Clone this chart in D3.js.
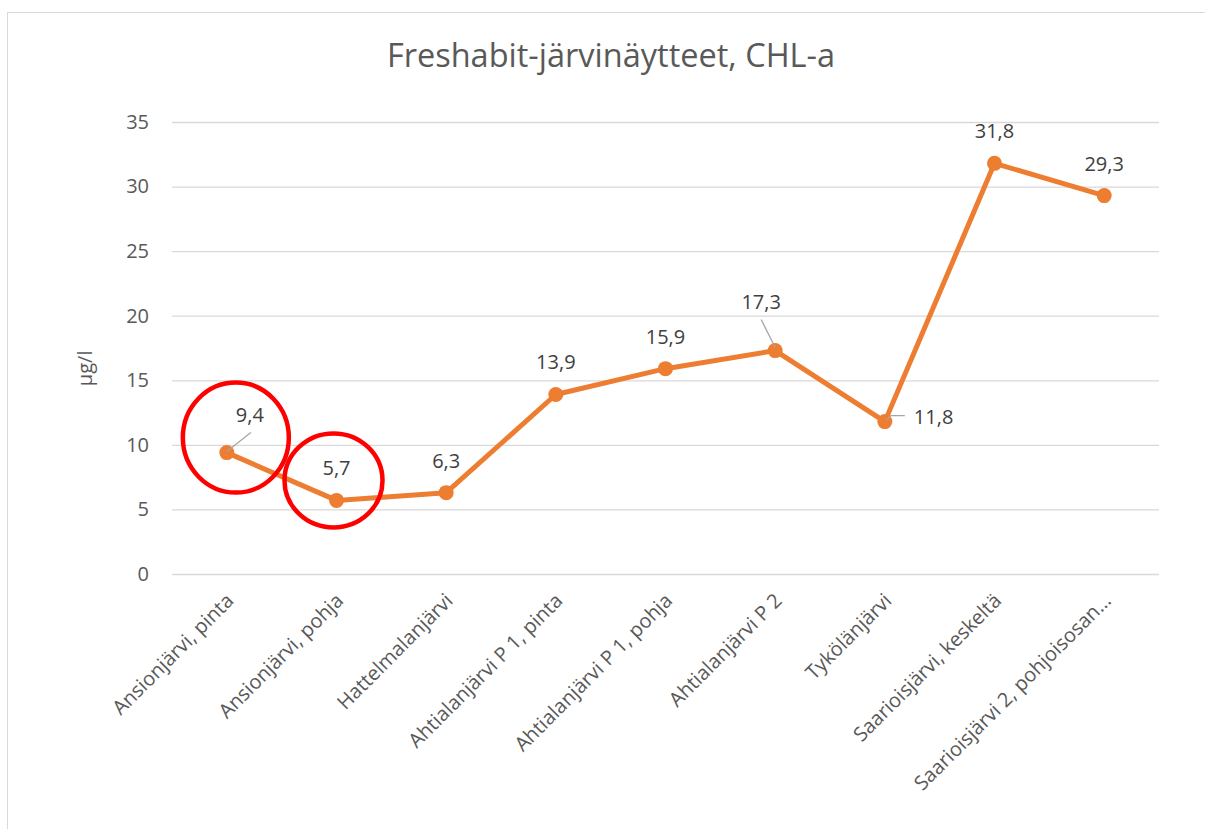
<!DOCTYPE html>
<html>
<head>
<meta charset="utf-8">
<script src="https://cdn.jsdelivr.net/npm/d3@7"></script>
<style>
  body { margin: 0; background: #fff; }
  svg, svg text { font-family: "Open Sans", sans-serif; }
</style>
</head>
<body>
<svg id="chart" width="1205" height="829"></svg>
<script>
// chart data
var categories = ['Ansionjärvi, pinta', 'Ansionjärvi, pohja', 'Hattelmalanjärvi',
    'Ahtialanjärvi P 1, pinta', 'Ahtialanjärvi P 1, pohja', 'Ahtialanjärvi P 2',
    'Tykölänjärvi', 'Saarioisjärvi, keskeltä', 'Saarioisjärvi 2, pohjoisosan…'];
var values = [9.4, 5.7, 6.3, 13.9, 15.9, 17.3, 11.8, 31.8, 29.3];
var yTicks = [0, 5, 10, 15, 20, 25, 30, 35];
// where each data label sits: above, or with a leader line
var labelPlacement = ['leaderRight', 'above', 'above', 'above', 'above', 'leaderUp', 'right', 'above', 'above'];
// categories circled in red
var circled = [0, 1];

var svg = d3.select('#chart');
var svgWidth = +svg.attr('width');
var svgHeight = +svg.attr('height');

var padding = {t: 122, r: 46, b: 255, l: 172};
var plotW = svgWidth - padding.l - padding.r;
var plotH = svgHeight - padding.t - padding.b;

// chart area border
svg.append('rect')
    .attr('x', 7.5).attr('y', 12.5)
    .attr('width', 1200).attr('height', 830)
    .attr('fill', '#fff')
    .attr('stroke', '#d9d9d9')
    .attr('stroke-width', 1);

var chartG = svg.append('g')
    .attr('transform', 'translate(' + [padding.l, padding.t] + ')');

var xScale = d3.scaleBand().domain(categories).range([0, plotW]);
var yScale = d3.scaleLinear().domain([0, 35]).range([plotH, 0]);
var cx = function(i) { return xScale(categories[i]) + xScale.bandwidth() / 2; };

// gridlines + y ticks
var yAxis = d3.axisLeft(yScale).tickValues(yTicks).tickSize(-plotW).tickPadding(23);
var yG = chartG.append('g').attr('class', 'yaxis').call(yAxis);
yG.attr('font-family', null).attr('font-size', null);
yG.select('.domain').remove();
yG.selectAll('.tick line').attr('stroke', '#d9d9d9').attr('stroke-width', 1.3);
yG.selectAll('.tick text')
    .attr('fill', '#595959')
    .style('font-size', '20px');

// x labels
var xAxis = d3.axisBottom(xScale).tickSize(0).tickPadding(0);
var xG = chartG.append('g').attr('class', 'xaxis')
    .attr('transform', 'translate(0,' + plotH + ')')
    .call(xAxis);
xG.attr('font-family', null).attr('font-size', null);
xG.select('.domain').remove();
xG.selectAll('.tick text')
    .attr('fill', '#595959')
    .style('font-size', '20px')
    .attr('text-anchor', 'end')
    .attr('dy', 0)
    .attr('transform', 'translate(8,28) rotate(-45)');

// line
var line = d3.line()
    .x(function(d, i) { return cx(i); })
    .y(function(d) { return yScale(d); });

chartG.append('path')
    .datum(values)
    .attr('d', line)
    .attr('fill', 'none')
    .attr('stroke', '#ed7d31')
    .attr('stroke-width', 5)
    .attr('stroke-linejoin', 'round')
    .attr('stroke-linecap', 'round');

chartG.selectAll('.dot')
    .data(values)
    .enter().append('circle')
    .attr('class', 'dot')
    .attr('cx', function(d, i) { return cx(i); })
    .attr('cy', function(d) { return yScale(d); })
    .attr('r', 7.5)
    .attr('fill', '#ed7d31');

// data labels
var fmt = function(v) { return d3.format('.1f')(v).replace('.', ','); };
var labelG = chartG.append('g');
values.forEach(function(v, i) {
    var px = cx(i), py = yScale(v);
    var place = labelPlacement[i];
    var tx = px, ty = py - 32, anchor = 'middle';
    if (place === 'leaderRight') {
        tx = px + 23; ty = py - 38;
        labelG.append('line')
            .attr('x1', px).attr('y1', py - 1)
            .attr('x2', px + 24).attr('y2', py - 20)
            .attr('stroke', '#a6a6a6').attr('stroke-width', 1.3);
    } else if (place === 'leaderUp') {
        tx = px - 14; ty = py - 49;
        labelG.append('line')
            .attr('x1', px).attr('y1', py - 3)
            .attr('x2', px - 14).attr('y2', py - 31)
            .attr('stroke', '#a6a6a6').attr('stroke-width', 1.3);
    } else if (place === 'right') {
        tx = px + 29; ty = py - 5; anchor = 'start';
        labelG.append('polyline')
            .attr('points', [[px + 2, py - 2], [px + 6, py - 6], [px + 20, py - 6]].join(' '))
            .attr('fill', 'none')
            .attr('stroke', '#a6a6a6').attr('stroke-width', 1.3);
    }
    labelG.append('text')
        .attr('x', tx).attr('y', ty)
        .attr('dy', '0.35em')
        .attr('text-anchor', anchor)
        .attr('fill', '#404040')
        .style('font-size', '20px')
        .text(fmt(v));
});

// red highlight circles
var circleOffsets = [[9, -15, 53, 55], [-3, -20, 49, 47]];
circled.forEach(function(ci, k) {
    var o = circleOffsets[k];
    chartG.append('ellipse')
        .attr('cx', cx(ci) + o[0])
        .attr('cy', yScale(values[ci]) + o[1])
        .attr('rx', o[2]).attr('ry', o[3])
        .attr('fill', 'none')
        .attr('stroke', '#ff0000')
        .attr('stroke-width', 4.5);
});

// title and axis label
svg.append('text')
    .attr('x', 611).attr('y', 67)
    .attr('text-anchor', 'middle')
    .attr('fill', '#595959')
    .style('font-size', '32.5px')
    .text('Freshabit-järvinäytteet, CHL-a');

svg.append('text')
    .attr('transform', 'translate(92,' + (padding.t + plotH * 0.545) + ') rotate(-90)')
    .attr('text-anchor', 'middle')
    .attr('fill', '#595959')
    .style('font-size', '20px')
    .text('µg/l');
</script>
</body>
</html>
